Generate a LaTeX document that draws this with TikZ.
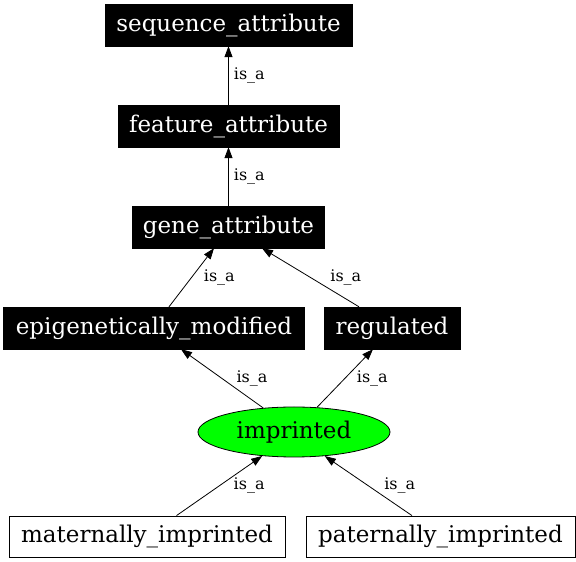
\documentclass[tikz,border=0pt]{standalone}
\usepackage{fontspec}
\setmainfont{DejaVu Serif}
\usetikzlibrary{arrows.meta,shapes.geometric}
\tikzset{
  termbox/.style={rectangle, fill=black, draw=black, text=white, inner sep=0pt,
    minimum height=42pt, font=\fontsize{23}{26}\selectfont},
  leafbox/.style={rectangle, fill=white, draw=black, line width=0.8pt, inner sep=0pt,
    minimum height=41pt, font=\fontsize{23}{26}\selectfont},
  rootterm/.style={ellipse, fill=green, draw=black, line width=0.8pt, inner sep=0pt,
    minimum width=192pt, minimum height=50pt, font=\fontsize{23}{26}\selectfont},
  isa/.style={-{Triangle[length=11pt,width=8pt]}, line width=0.8pt},
  lbl/.style={inner sep=0pt, font=\fontsize{16}{18}\selectfont}
}
\begin{document}
\begin{tikzpicture}[x=1pt,y=1pt]
\useasboundingbox (0,0) rectangle (576,562);
\node[termbox, minimum width=247pt] (seq) at (228.5,537) {sequence\_attribute};
\node[termbox, minimum width=221pt] (feat) at (228.5,436) {feature\_attribute};
\node[termbox, minimum width=192pt] (gene) at (228.5,335) {gene\_attribute};
\node[termbox, minimum width=301pt] (epi) at (154,234) {epigenetically\_modified};
\node[termbox, minimum width=136pt] (reg) at (392,234) {regulated};
\node[rootterm] (imp) at (294,130) {imprinted};
\node[leafbox, minimum width=276pt] (mat) at (147,25.5) {maternally\_imprinted};
\node[leafbox, minimum width=269pt] (pat) at (440.5,25.5) {paternally\_imprinted};
\draw[isa] (feat.north) -- node[lbl, midway, right=5pt] {is\_a} (seq.south);
\draw[isa] (gene.north) -- node[lbl, midway, right=5pt] {is\_a} (feat.south);
\draw[isa] ([xshift=15pt]epi.north) -- node[lbl, midway, right=12pt] {is\_a} ([xshift=-14.5pt]gene.south);
\draw[isa] ([xshift=-33pt]reg.north) -- node[lbl, midway, right=19.5pt] {is\_a} ([xshift=33.5pt]gene.south);
\draw[isa] (imp.142.6) -- node[lbl, midway, right=14pt] {is\_a} ([xshift=27pt]epi.south);
\draw[isa] (imp.47.8) -- node[lbl, midway, right=11.5pt] {is\_a} ([xshift=-19pt]reg.south);
\draw[isa] ([xshift=29.5pt]mat.north) -- node[lbl, midway, right=14pt] {is\_a} (imp.217.4);
\draw[isa] ([xshift=-28.5pt]pat.north) -- node[lbl, midway, right=15.5pt] {is\_a} (imp.322.6);
\end{tikzpicture}
\end{document}
